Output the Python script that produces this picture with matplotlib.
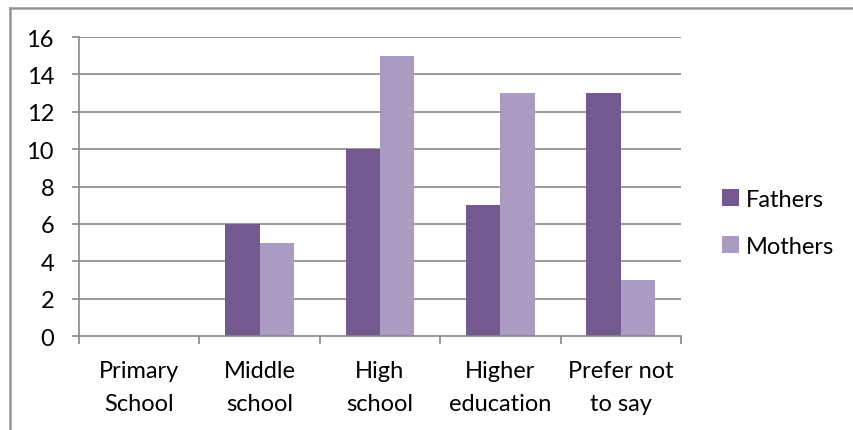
import matplotlib.pyplot as plt
import matplotlib.lines as mlines
import numpy as np

plt.rcParams['font.family'] = ['Lato', 'DejaVu Sans']

categories = ["Primary\nSchool", "Middle\nschool", "High\nschool", "Higher\neducation", "Prefer not\nto say"]
fathers = [0, 6, 10, 7, 13]
mothers = [0, 5, 15, 13, 3]
yticks = [0, 2, 4, 6, 8, 10, 12, 14, 16]

c_fathers = "#72598f"
c_mothers = "#a99bc1"
grid_c = "#878787"
fs = 17

fig = plt.figure(figsize=(8.54, 4.31), dpi=100)
W, H = 854, 431

# outer chart frame (only top and left edges fall inside the image)
fx, fy = 10.5 / W, 1 - 8.5 / H
fig.add_artist(mlines.Line2D([fx, fx], [0, fy], transform=fig.transFigure, color="#959595", lw=1.8))
fig.add_artist(mlines.Line2D([fx, 1], [fy, fy], transform=fig.transFigure, color="#959595", lw=1.8))

ax = fig.add_axes([79 / W, 1 - 337 / H, (681 - 79) / W, (337 - 38) / H])

x = np.arange(len(categories))
bw = 1 / 3.5
ax.bar(x - bw / 2, fathers, bw, color=c_fathers, label="Fathers")
ax.bar(x + bw / 2, mothers, bw, color=c_mothers, label="Mothers")

ax.set_xlim(-0.5, len(categories) - 0.5)
ax.set_ylim(0, 16)
ax.set_yticks(yticks)
ax.set_yticklabels([str(v) for v in yticks], fontsize=fs)
for v in yticks[1:]:
    ax.axhline(v, color=grid_c, linewidth=1.2, zorder=0)

ax.set_xticks(np.arange(len(categories) + 1) - 0.5, minor=False)
ax.set_xticklabels([])
ax.set_xticks(x, minor=True)
ax.set_xticklabels(categories, minor=True, fontsize=fs, linespacing=1.7)
ax.tick_params(axis="x", which="minor", length=0, pad=17)
ax.tick_params(axis="x", which="major", length=6, color=grid_c, width=1.2)
ax.tick_params(axis="y", length=5, color=grid_c, width=1.2, pad=13)

for s in ["top", "right"]:
    ax.spines[s].set_visible(False)
ax.spines["left"].set_color(grid_c)
ax.spines["bottom"].set_color(grid_c)
ax.spines["left"].set_linewidth(1.2)
ax.spines["bottom"].set_linewidth(1.2)

fig.legend(loc="upper left", bbox_to_anchor=(722 / W, 1 - 190 / H), frameon=False,
           fontsize=fs, handlelength=0.72, handleheight=0.72, handletextpad=0.27,
           labelspacing=1.1, borderpad=0, borderaxespad=0)

fig.savefig("out.png", dpi=100)
